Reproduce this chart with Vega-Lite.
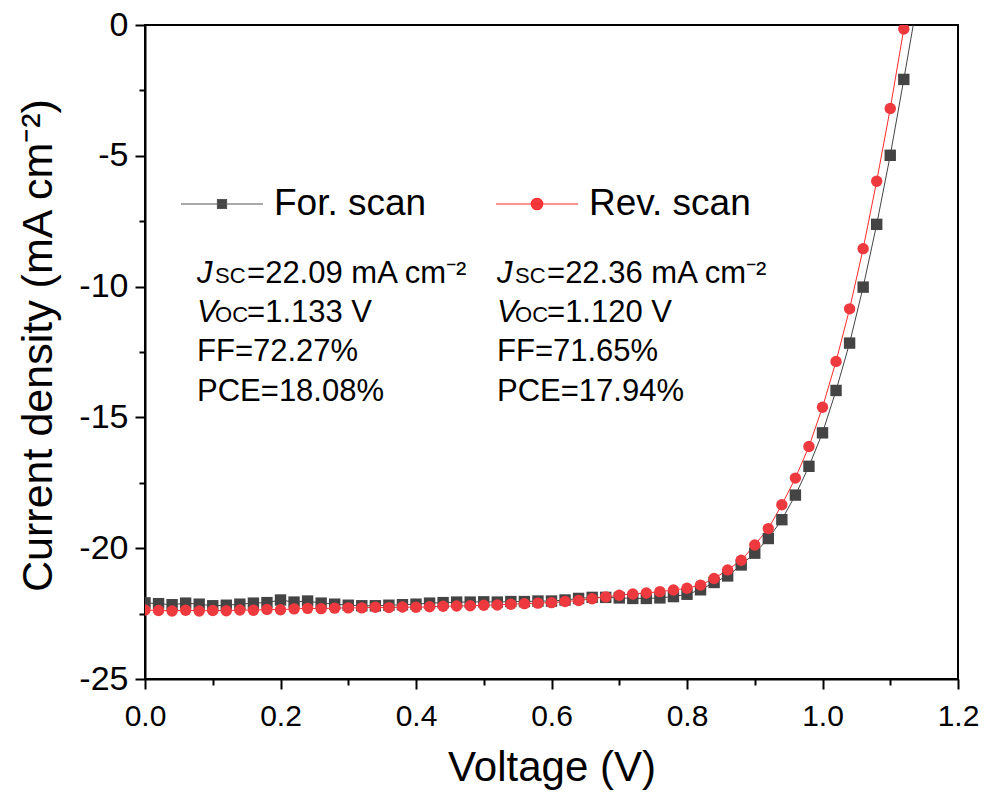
{
  "$schema": "https://vega.github.io/schema/vega-lite/v6.json",
  "width": 813,
  "height": 654,
  "autosize": {"type": "none"},
  "padding": {"left": 145, "top": 25, "right": 31, "bottom": 119},
  "background": "white",
  "config": {
    "font": "Liberation Sans",
    "view": {"stroke": "black", "strokeWidth": 2},
    "axis": {"domainColor": "black", "domainWidth": 2, "tickColor": "black", "tickWidth": 2, "grid": false, "labelColor": "black", "titleColor": "black", "labelFont": "Liberation Sans", "titleFont": "Liberation Sans", "titleFontWeight": "normal", "labelFlush": false}
  },
  "datasets": {
    "jv": [
      {"scan": "For. scan", "V": 0.00, "J": -22.09},
      {"scan": "For. scan", "V": 0.02, "J": -22.12},
      {"scan": "For. scan", "V": 0.04, "J": -22.16},
      {"scan": "For. scan", "V": 0.06, "J": -22.10},
      {"scan": "For. scan", "V": 0.08, "J": -22.14},
      {"scan": "For. scan", "V": 0.10, "J": -22.20},
      {"scan": "For. scan", "V": 0.12, "J": -22.18},
      {"scan": "For. scan", "V": 0.14, "J": -22.14},
      {"scan": "For. scan", "V": 0.16, "J": -22.10},
      {"scan": "For. scan", "V": 0.18, "J": -22.08},
      {"scan": "For. scan", "V": 0.20, "J": -21.98},
      {"scan": "For. scan", "V": 0.22, "J": -22.06},
      {"scan": "For. scan", "V": 0.24, "J": -22.02},
      {"scan": "For. scan", "V": 0.26, "J": -22.10},
      {"scan": "For. scan", "V": 0.28, "J": -22.14},
      {"scan": "For. scan", "V": 0.30, "J": -22.18},
      {"scan": "For. scan", "V": 0.32, "J": -22.20},
      {"scan": "For. scan", "V": 0.34, "J": -22.20},
      {"scan": "For. scan", "V": 0.36, "J": -22.18},
      {"scan": "For. scan", "V": 0.38, "J": -22.16},
      {"scan": "For. scan", "V": 0.40, "J": -22.14},
      {"scan": "For. scan", "V": 0.42, "J": -22.10},
      {"scan": "For. scan", "V": 0.44, "J": -22.08},
      {"scan": "For. scan", "V": 0.46, "J": -22.06},
      {"scan": "For. scan", "V": 0.48, "J": -22.06},
      {"scan": "For. scan", "V": 0.50, "J": -22.05},
      {"scan": "For. scan", "V": 0.52, "J": -22.06},
      {"scan": "For. scan", "V": 0.54, "J": -22.04},
      {"scan": "For. scan", "V": 0.56, "J": -22.04},
      {"scan": "For. scan", "V": 0.58, "J": -22.02},
      {"scan": "For. scan", "V": 0.60, "J": -22.02},
      {"scan": "For. scan", "V": 0.62, "J": -21.98},
      {"scan": "For. scan", "V": 0.64, "J": -21.92},
      {"scan": "For. scan", "V": 0.66, "J": -21.88},
      {"scan": "For. scan", "V": 0.68, "J": -21.88},
      {"scan": "For. scan", "V": 0.70, "J": -21.90},
      {"scan": "For. scan", "V": 0.72, "J": -21.92},
      {"scan": "For. scan", "V": 0.74, "J": -21.92},
      {"scan": "For. scan", "V": 0.76, "J": -21.90},
      {"scan": "For. scan", "V": 0.78, "J": -21.85},
      {"scan": "For. scan", "V": 0.80, "J": -21.76},
      {"scan": "For. scan", "V": 0.82, "J": -21.59},
      {"scan": "For. scan", "V": 0.84, "J": -21.31},
      {"scan": "For. scan", "V": 0.86, "J": -21.06},
      {"scan": "For. scan", "V": 0.88, "J": -20.64},
      {"scan": "For. scan", "V": 0.90, "J": -20.19},
      {"scan": "For. scan", "V": 0.92, "J": -19.63},
      {"scan": "For. scan", "V": 0.94, "J": -18.91},
      {"scan": "For. scan", "V": 0.96, "J": -17.97},
      {"scan": "For. scan", "V": 0.98, "J": -16.87},
      {"scan": "For. scan", "V": 1.00, "J": -15.59},
      {"scan": "For. scan", "V": 1.02, "J": -13.97},
      {"scan": "For. scan", "V": 1.04, "J": -12.16},
      {"scan": "For. scan", "V": 1.06, "J": -10.02},
      {"scan": "For. scan", "V": 1.08, "J": -7.62},
      {"scan": "For. scan", "V": 1.10, "J": -4.98},
      {"scan": "For. scan", "V": 1.12, "J": -2.08},
      {"scan": "For. scan", "V": 1.14, "J": 0.9},
      {"scan": "Rev. scan", "V": 0.00, "J": -22.36},
      {"scan": "Rev. scan", "V": 0.02, "J": -22.38},
      {"scan": "Rev. scan", "V": 0.04, "J": -22.40},
      {"scan": "Rev. scan", "V": 0.06, "J": -22.37},
      {"scan": "Rev. scan", "V": 0.08, "J": -22.40},
      {"scan": "Rev. scan", "V": 0.10, "J": -22.38},
      {"scan": "Rev. scan", "V": 0.12, "J": -22.39},
      {"scan": "Rev. scan", "V": 0.14, "J": -22.36},
      {"scan": "Rev. scan", "V": 0.16, "J": -22.37},
      {"scan": "Rev. scan", "V": 0.18, "J": -22.34},
      {"scan": "Rev. scan", "V": 0.20, "J": -22.35},
      {"scan": "Rev. scan", "V": 0.22, "J": -22.32},
      {"scan": "Rev. scan", "V": 0.24, "J": -22.30},
      {"scan": "Rev. scan", "V": 0.26, "J": -22.31},
      {"scan": "Rev. scan", "V": 0.28, "J": -22.29},
      {"scan": "Rev. scan", "V": 0.30, "J": -22.28},
      {"scan": "Rev. scan", "V": 0.32, "J": -22.28},
      {"scan": "Rev. scan", "V": 0.34, "J": -22.26},
      {"scan": "Rev. scan", "V": 0.36, "J": -22.27},
      {"scan": "Rev. scan", "V": 0.38, "J": -22.25},
      {"scan": "Rev. scan", "V": 0.40, "J": -22.26},
      {"scan": "Rev. scan", "V": 0.42, "J": -22.24},
      {"scan": "Rev. scan", "V": 0.44, "J": -22.22},
      {"scan": "Rev. scan", "V": 0.46, "J": -22.21},
      {"scan": "Rev. scan", "V": 0.48, "J": -22.20},
      {"scan": "Rev. scan", "V": 0.50, "J": -22.18},
      {"scan": "Rev. scan", "V": 0.52, "J": -22.17},
      {"scan": "Rev. scan", "V": 0.54, "J": -22.14},
      {"scan": "Rev. scan", "V": 0.56, "J": -22.12},
      {"scan": "Rev. scan", "V": 0.58, "J": -22.10},
      {"scan": "Rev. scan", "V": 0.60, "J": -22.08},
      {"scan": "Rev. scan", "V": 0.62, "J": -22.04},
      {"scan": "Rev. scan", "V": 0.64, "J": -22.00},
      {"scan": "Rev. scan", "V": 0.66, "J": -21.93},
      {"scan": "Rev. scan", "V": 0.68, "J": -21.86},
      {"scan": "Rev. scan", "V": 0.70, "J": -21.80},
      {"scan": "Rev. scan", "V": 0.72, "J": -21.75},
      {"scan": "Rev. scan", "V": 0.74, "J": -21.71},
      {"scan": "Rev. scan", "V": 0.76, "J": -21.66},
      {"scan": "Rev. scan", "V": 0.78, "J": -21.60},
      {"scan": "Rev. scan", "V": 0.80, "J": -21.53},
      {"scan": "Rev. scan", "V": 0.82, "J": -21.41},
      {"scan": "Rev. scan", "V": 0.84, "J": -21.16},
      {"scan": "Rev. scan", "V": 0.86, "J": -20.83},
      {"scan": "Rev. scan", "V": 0.88, "J": -20.46},
      {"scan": "Rev. scan", "V": 0.90, "J": -19.88},
      {"scan": "Rev. scan", "V": 0.92, "J": -19.25},
      {"scan": "Rev. scan", "V": 0.94, "J": -18.34},
      {"scan": "Rev. scan", "V": 0.96, "J": -17.32},
      {"scan": "Rev. scan", "V": 0.98, "J": -16.11},
      {"scan": "Rev. scan", "V": 1.00, "J": -14.61},
      {"scan": "Rev. scan", "V": 1.02, "J": -12.86},
      {"scan": "Rev. scan", "V": 1.04, "J": -10.85},
      {"scan": "Rev. scan", "V": 1.06, "J": -8.55},
      {"scan": "Rev. scan", "V": 1.08, "J": -5.97},
      {"scan": "Rev. scan", "V": 1.10, "J": -3.19},
      {"scan": "Rev. scan", "V": 1.12, "J": -0.15}
    ],
    "notes": [
      {"V": 0.0768, "J": -9.88, "ital": "J", "sub": "SC", "rest": "=22.09 mA cm⁻²"},
      {"V": 0.0768, "J": -11.37, "ital": "V", "sub": "OC", "rest": "=1.133 V"},
      {"V": 0.0768, "J": -12.86, "ital": "", "sub": "", "rest": "FF=72.27%"},
      {"V": 0.0768, "J": -14.36, "ital": "", "sub": "", "rest": "PCE=18.08%"},
      {"V": 0.5196, "J": -9.88, "ital": "J", "sub": "SC", "rest": "=22.36 mA cm⁻²"},
      {"V": 0.5196, "J": -11.37, "ital": "V", "sub": "OC", "rest": "=1.120 V"},
      {"V": 0.5196, "J": -12.86, "ital": "", "sub": "", "rest": "FF=71.65%"},
      {"V": 0.5196, "J": -14.36, "ital": "", "sub": "", "rest": "PCE=17.94%"}
    ]
  },
  "layer": [
    {
      "data": {"name": "jv"},
      "mark": {"type": "line", "strokeWidth": 1, "clip": true},
      "encoding": {
        "x": {"field": "V", "type": "quantitative", "scale": {"domain": [0, 1.2], "nice": false, "zero": false},
              "axis": {"orient": "bottom", "values": [0.1, 0.3, 0.5, 0.7, 0.9, 1.1], "labels": false, "domain": false, "title": null, "tickSize": 6, "grid": false}},
        "y": {"field": "J", "type": "quantitative", "scale": {"domain": [-25, 0], "nice": false, "zero": false},
              "axis": {"orient": "left", "values": [-22.5, -17.5, -12.5, -7.5, -2.5], "labels": false, "domain": false, "title": null, "tickSize": 6, "grid": false}},
        "detail": {"field": "scan", "type": "nominal"},
        "stroke": {"condition": {"test": "datum.scan === 'For. scan'", "value": "#444444"}, "value": "#ff2a2a"},
        "order": {"field": "V", "type": "quantitative"}
      }
    },
    {
      "data": {"name": "jv"},
      "mark": {"type": "point", "filled": true, "opacity": 1, "size": 130, "clip": true},
      "encoding": {
        "x": {"field": "V", "type": "quantitative",
              "axis": {"orient": "bottom", "values": [0, 0.2, 0.4, 0.6, 0.8, 1.0, 1.2], "format": ".1f", "title": "Voltage (V)", "labelFontSize": 30, "titleFontSize": 42, "tickSize": 10, "labelPadding": 12, "titlePadding": 16}},
        "y": {"field": "J", "type": "quantitative",
              "axis": {"orient": "left", "values": [-25, -20, -15, -10, -5, 0], "labelExpr": "toString(datum.value)", "title": "Current density (mA cm⁻²)", "labelFontSize": 34, "titleFontSize": 43, "tickSize": 10, "labelPadding": 7, "titlePadding": 18, "titleY": 320}},
        "color": {"field": "scan", "type": "nominal", "scale": {"domain": ["For. scan", "Rev. scan"], "range": ["#444444", "#ee3a3e"]},
                  "legend": {"orient": "none", "legendX": 35, "legendY": 137, "direction": "horizontal", "title": null,
                             "symbolSize": 6724, "labelFontSize": 37, "labelFont": "Liberation Sans", "labelColor": "black", "labelOffset": 10, "columnPadding": 66, "labelLimit": 400,
                             "symbolType": {"expr": "datum.value === 'For. scan' ? 'M-1,0H1M-0.11,-0.11H0.11V0.11H-0.11Z' : 'M-1,0H1M0.14,0A0.14,0.14,0,1,1,-0.14,0A0.14,0.14,0,1,1,0.14,0Z'"},
                             "symbolStrokeColor": {"expr": "datum.value === 'For. scan' ? '#555555' : '#ff2a2a'"},
                             "symbolStrokeWidth": 1.2,
                             "symbolOpacity": 1}},
        "shape": {"condition": {"test": "datum.scan === 'For. scan'", "value": "square"}, "value": "circle"}
      }
    },
    {
      "data": {"name": "notes"},
      "transform": [{"filter": "datum.ital != ''"}],
      "mark": {"type": "text", "align": "left", "baseline": "alphabetic", "fontSize": 31, "fontStyle": "italic", "color": "black"},
      "encoding": {
        "x": {"field": "V", "type": "quantitative", "axis": null},
        "y": {"field": "J", "type": "quantitative", "axis": null},
        "text": {"field": "ital"}
      }
    },
    {
      "data": {"name": "notes"},
      "transform": [{"filter": "datum.sub != ''"}],
      "mark": {"type": "text", "align": "left", "baseline": "alphabetic", "fontSize": 22, "dx": 18, "color": "black"},
      "encoding": {
        "x": {"field": "V", "type": "quantitative", "axis": null},
        "y": {"field": "J", "type": "quantitative", "axis": null},
        "text": {"field": "sub"}
      }
    },
    {
      "data": {"name": "notes"},
      "transform": [{"filter": "datum.sub != ''"}],
      "mark": {"type": "text", "align": "left", "baseline": "alphabetic", "fontSize": 31, "dx": 50, "color": "black"},
      "encoding": {
        "x": {"field": "V", "type": "quantitative", "axis": null},
        "y": {"field": "J", "type": "quantitative", "axis": null},
        "text": {"field": "rest"}
      }
    },
    {
      "data": {"name": "notes"},
      "transform": [{"filter": "datum.sub == ''"}],
      "mark": {"type": "text", "align": "left", "baseline": "alphabetic", "fontSize": 31, "color": "black"},
      "encoding": {
        "x": {"field": "V", "type": "quantitative", "axis": null},
        "y": {"field": "J", "type": "quantitative", "axis": null},
        "text": {"field": "rest"}
      }
    }
  ],
  "resolve": {"axis": {"x": "independent", "y": "independent"}}
}
